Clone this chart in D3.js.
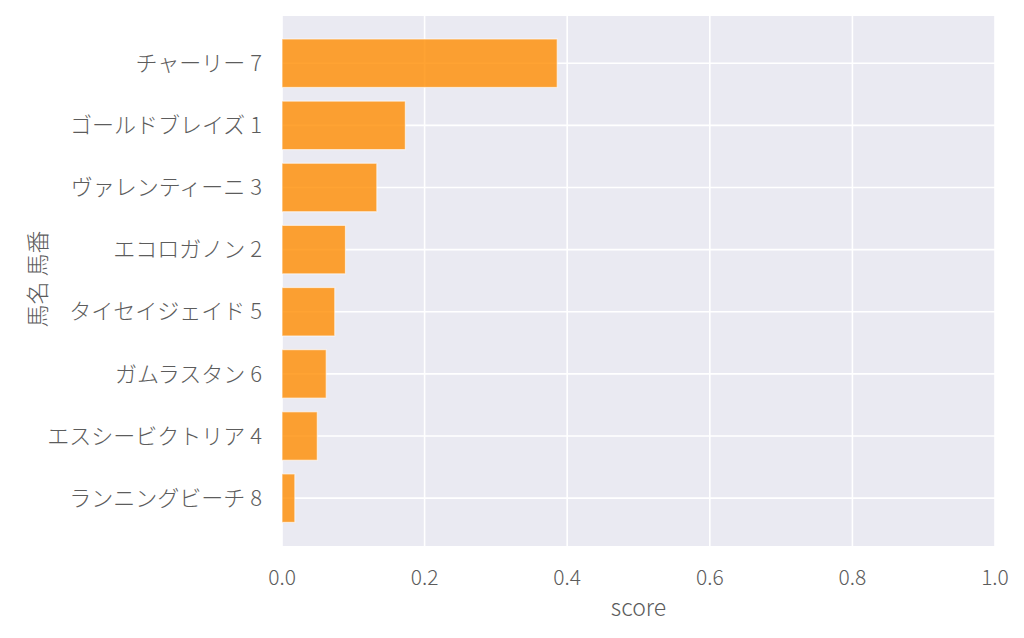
<!DOCTYPE html>
<html>
<head>
<meta charset="utf-8">
<script src="https://cdn.jsdelivr.net/npm/d3@7"></script>
<style>
  body { margin: 0; background: #fff; }
  text { font-family: "Noto Sans CJK JP", "Noto Sans", sans-serif; font-weight: 300; fill: #5c5c5c; }
</style>
</head>
<body>
<svg id="chart" width="1024" height="638"></svg>
<script>
// horse names and scores, top to bottom
var horses = ["チャーリー 7", "ゴールドブレイズ 1", "ヴァレンティーニ 3", "エコロガノン 2",
              "タイセイジェイド 5", "ガムラスタン 6", "エスシービクトリア 4", "ランニングビーチ 8"];
var scores = [0.386, 0.173, 0.133, 0.089, 0.074, 0.062, 0.0495, 0.018];
var xTicks = [0, 0.2, 0.4, 0.6, 0.8, 1.0];

var svg = d3.select("#chart");
var margin = {left: 282, right: 29, top: 16, bottom: 92};
var W = 1024 - margin.left - margin.right;
var H = 638 - margin.top - margin.bottom;

var g = svg.append("g").attr("transform", "translate(" + margin.left + "," + margin.top + ")");

var x = d3.scaleLinear().domain([0, 1]).range([0, W]);
// categorical positions 0..7 with seaborn-like padding
var y = d3.scaleLinear().domain([-0.76, horses.length - 1 + 0.77]).range([0, H]);
var barH = (y(1) - y(0)) * 0.78;

g.append("rect").attr("width", W).attr("height", H).attr("fill", "#eaeaf2");

// grid
g.selectAll(".vgrid").data(xTicks).enter().append("line")
  .attr("x1", function(d) { return x(d); }).attr("x2", function(d) { return x(d); })
  .attr("y1", 0).attr("y2", H)
  .attr("stroke", "#fff").attr("stroke-width", 1.6);
g.selectAll(".hgrid").data(horses).enter().append("line")
  .attr("x1", 0).attr("x2", W)
  .attr("y1", function(d, i) { return y(i); }).attr("y2", function(d, i) { return y(i); })
  .attr("stroke", "#fff").attr("stroke-width", 1.6);

// bars
g.selectAll(".bar").data(scores).enter().append("rect")
  .attr("x", x(0))
  .attr("y", function(d, i) { return y(i) - barH / 2; })
  .attr("width", function(d) { return x(d) - x(0); })
  .attr("height", barH)
  .attr("fill", "darkorange").attr("fill-opacity", 0.8)
  .attr("stroke", "#fff").attr("stroke-opacity", 0.6).attr("stroke-width", 1.2);

// y labels
g.selectAll(".ylab").data(horses).enter().append("text")
  .attr("x", -20).attr("y", function(d, i) { return y(i); })
  .attr("dy", "0.35em").attr("text-anchor", "end")
  .attr("font-size", 22)
  .text(function(d) { return d; });

// x tick labels
g.selectAll(".xlab").data(xTicks).enter().append("text")
  .attr("x", function(d) { return x(d); }).attr("y", H + 39)
  .attr("text-anchor", "middle").attr("font-size", 21)
  .text(function(d) { return d3.format(".1f")(d); });

// axis titles
svg.append("text").attr("x", margin.left + W / 2).attr("y", 616)
  .attr("text-anchor", "middle").attr("font-size", 23).text("score");
svg.append("text").attr("transform", "translate(46," + (margin.top + H / 2 - 2) + ") rotate(-90)")
  .attr("text-anchor", "middle").attr("font-size", 23).text("馬名 馬番");
</script>
</body>
</html>
